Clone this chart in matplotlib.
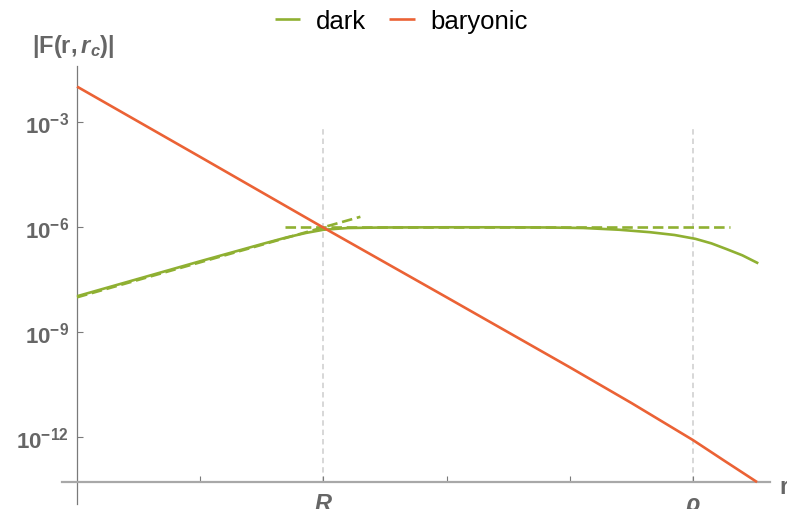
"""
Recreate the |F(r, r_c)| log plot: dark vs baryonic profiles with the
two asymptotes of the dark curve and markers at R and rho.
"""
import matplotlib
matplotlib.use("Agg")
import matplotlib.pyplot as plt
import numpy as np

plt.rcParams["font.family"] = ["Liberation Sans", "DejaVu Sans"]
plt.rcParams["mathtext.fontset"] = "custom"
plt.rcParams["mathtext.rm"] = "Liberation Sans:bold"
plt.rcParams["mathtext.it"] = "Liberation Sans:bold:italic"
plt.rcParams["mathtext.bf"] = "Liberation Sans:bold"

# ---- data (x in tick units, y as log10 |F|) ----
dark_t = [0.0, 0.5, 1.0, 1.5, 1.7, 1.86, 2.0, 2.2, 2.5, 3.0, 3.43, 3.8,
          4.11, 4.4, 4.65, 4.85, 5.02, 5.15, 5.27, 5.4, 5.53]
dark_log = [-7.97, -7.47, -6.97, -6.48, -6.29, -6.16, -6.07, -6.02, -6.005,
            -6.0, -6.0, -6.005, -6.02, -6.07, -6.14, -6.22, -6.33, -6.46,
            -6.62, -6.8, -7.03]
bary_t = [0.0, 1.0, 2.0, 3.0, 4.0, 4.5, 5.0, 5.25, 5.52]
bary_log = [-1.98, -3.99, -6.01, -8.0, -10.0, -11.02, -12.08, -12.66, -13.28]
# dashed asymptotes of the dark curve
inner_t = [0.0, 2.3]
inner_log = [-8.0, -5.70]
outer_t = [1.69, 5.30]
outer_log = [-6.0, -6.0]
# vertical markers
mark_t = [2, 5]
mark_top_log = -3.13

xticks = [1, 2, 3, 4, 5]
xtick_labels = ["", "R", "", "", "\u03c1"]
ytick_exp = [-3, -6, -9, -12]

GREEN = "#8fb032"
ORANGE = "#eb6235"
GRAY = "#666666"

# axis layout (pixels of a 787x510 canvas)
W, H = 787, 510
x_lo, x_hi = -0.122, 5.625
y_lo, y_hi = -13.906, -1.383
x_axis_log = -13.28

fig = plt.figure(figsize=(W / 100, H / 100), dpi=100)
ax = fig.add_axes([62 / W, 5 / H, (770 - 62) / W, (505 - 66.7) / H])
ax.set_yscale("log")
ax.set_xlim(x_lo, x_hi)
ax.set_ylim(10 ** y_lo, 10 ** y_hi)

pw = lambda v: 10 ** np.asarray(v)

for t in mark_t:
    ax.plot([t, t], [10 ** x_axis_log, 10 ** mark_top_log], color="#d4d4d4",
            lw=1.3, dashes=(3, 2.2), zorder=1)

ax.plot(dark_t, pw(dark_log), color=GREEN, lw=1.9, label="dark", zorder=3,
        solid_capstyle="butt")
ax.plot(inner_t, pw(inner_log), color=GREEN, lw=1.9, dashes=(4, 1.8), zorder=3)
ax.plot(outer_t, pw(outer_log), color=GREEN, lw=1.9, dashes=(4, 1.8), zorder=3)
ax.plot(bary_t, pw(bary_log), color=ORANGE, lw=1.9, label="baryonic", zorder=4,
        solid_capstyle="butt")

# Mathematica-style crossing axes
for s in ("top", "right"):
    ax.spines[s].set_visible(False)
ax.spines["left"].set_position(("data", 0))
ax.spines["bottom"].set_position(("data", 10 ** x_axis_log))
ax.spines["left"].set_color("#7a7a7a")
ax.spines["left"].set_linewidth(0.9)
ax.spines["bottom"].set_color("#a8a8a8")
ax.spines["bottom"].set_linewidth(1.6)

ax.set_xticks(xticks)
ax.set_xticklabels(xtick_labels, fontsize=17, fontweight="bold",
                   fontstyle="italic", color=GRAY)
ax.set_yticks([10.0 ** e for e in ytick_exp])
ax.set_yticklabels([rf"$10^{{{e}}}$" for e in ytick_exp], fontsize=16,
                   color=GRAY)
ax.minorticks_off()
ax.tick_params(axis="x", direction="in", length=4, width=0.8,
               color="#7a7a7a", pad=7)
ax.tick_params(axis="y", direction="in", length=4, width=0.8,
               color="#7a7a7a", pad=6)

fig.text(32 / W, 1 - 46 / H, r"$|\mathrm{F}(\mathrm{r},r_c)|$", fontsize=17,
         color=GRAY, va="center", ha="left")
fig.text(779 / W, 1 - 487 / H, "r", fontsize=17, fontweight="bold",
         color=GRAY, va="center", ha="left")

fig.legend(loc="center", bbox_to_anchor=(401 / W, 1 - 22 / H), ncol=2,
           frameon=False, fontsize=18.5, handlelength=1.0, handletextpad=0.6,
           columnspacing=0.9)

fig.savefig("out.png", dpi=100)
